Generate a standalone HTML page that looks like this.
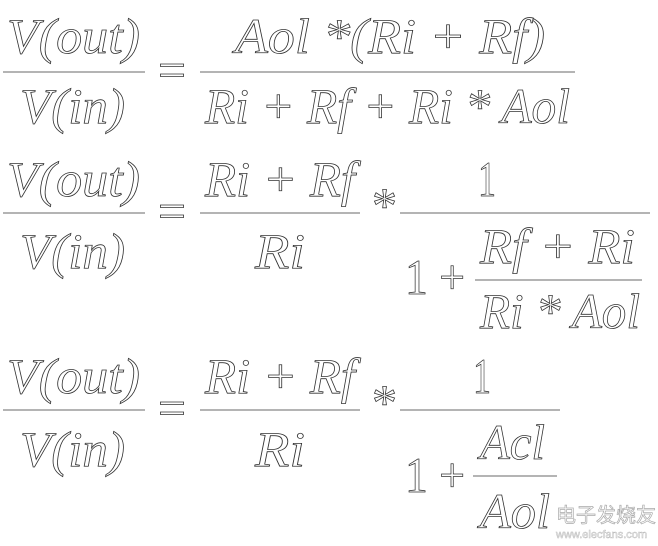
<!DOCTYPE html>
<html><head><meta charset="utf-8"><style>
html,body{margin:0;padding:0;background:#fff;}
svg{display:block}
text{font-family:"Liberation Serif",serif;font-style:italic;font-size:50px;fill:#fff;stroke:#333;stroke-width:0.8;}
.u{font-style:normal;}
line{stroke:#888;stroke-width:1.2;}
.wm{font-family:"Liberation Sans","Noto Sans CJK SC",sans-serif;font-style:normal;font-size:20px;stroke:#aaa;stroke-width:0.7;}
.wm2{font-family:"Liberation Sans",sans-serif;font-style:normal;font-size:11px;stroke:#bbb;stroke-width:0.5;}
</style></head><body>
<svg width="658" height="546" xmlns="http://www.w3.org/2000/svg">
<!-- Eq1 -->
<text x="7" y="53" textLength="133" lengthAdjust="spacingAndGlyphs">V(out)</text>
<line x1="3" y1="72" x2="145" y2="72"/>
<text x="20" y="123" textLength="105" lengthAdjust="spacingAndGlyphs">V(in)</text>
<text class="u" x="158" y="87" textLength="28" lengthAdjust="spacingAndGlyphs">=</text>
<text x="235" y="53" textLength="310" lengthAdjust="spacingAndGlyphs">Aol *(Ri + Rf)</text>
<line x1="200" y1="72" x2="575" y2="72"/>
<text x="205" y="123" textLength="365" lengthAdjust="spacingAndGlyphs">Ri + Rf + Ri * Aol</text>
<!-- Eq2 -->
<text x="7" y="196" textLength="133" lengthAdjust="spacingAndGlyphs">V(out)</text>
<line x1="3" y1="213" x2="145" y2="213"/>
<text x="20" y="268" textLength="105" lengthAdjust="spacingAndGlyphs">V(in)</text>
<text class="u" x="158" y="228" textLength="28" lengthAdjust="spacingAndGlyphs">=</text>
<text x="205" y="196" textLength="150" lengthAdjust="spacingAndGlyphs">Ri + Rf</text>
<line x1="200" y1="213" x2="360" y2="213"/>
<text x="255" y="268" textLength="50" lengthAdjust="spacingAndGlyphs">Ri</text>
<text class="u" x="372" y="222" font-size="30">*</text>
<text class="u" x="478" y="196" textLength="18" lengthAdjust="spacingAndGlyphs">1</text>
<line x1="400" y1="213" x2="650" y2="213"/>
<text class="u" x="405" y="294" textLength="60" lengthAdjust="spacingAndGlyphs">1 +</text>
<text x="480" y="263" textLength="155" lengthAdjust="spacingAndGlyphs">Rf + Ri</text>
<line x1="475" y1="280" x2="642" y2="280"/>
<text x="480" y="328" textLength="160" lengthAdjust="spacingAndGlyphs">Ri * Aol</text>
<!-- Eq3 -->
<text x="7" y="393" textLength="133" lengthAdjust="spacingAndGlyphs">V(out)</text>
<line x1="3" y1="410" x2="145" y2="410"/>
<text x="20" y="466" textLength="105" lengthAdjust="spacingAndGlyphs">V(in)</text>
<text class="u" x="158" y="425" textLength="28" lengthAdjust="spacingAndGlyphs">=</text>
<text x="205" y="393" textLength="150" lengthAdjust="spacingAndGlyphs">Ri + Rf</text>
<line x1="200" y1="410" x2="360" y2="410"/>
<text x="255" y="466" textLength="50" lengthAdjust="spacingAndGlyphs">Ri</text>
<text class="u" x="372" y="419" font-size="30">*</text>
<text class="u" x="473" y="393" textLength="18" lengthAdjust="spacingAndGlyphs">1</text>
<line x1="400" y1="410" x2="560" y2="410"/>
<text class="u" x="405" y="492" textLength="60" lengthAdjust="spacingAndGlyphs">1 +</text>
<text x="480" y="459" textLength="65" lengthAdjust="spacingAndGlyphs">Acl</text>
<line x1="473" y1="476" x2="557" y2="476"/>
<text x="480" y="528" textLength="70" lengthAdjust="spacingAndGlyphs">Aol</text>
<!-- watermark -->
<text class="wm" x="556" y="522">电子发烧友</text>
<text class="wm2" x="556" y="538">www.elecfans.com</text>
</svg>
</body></html>
